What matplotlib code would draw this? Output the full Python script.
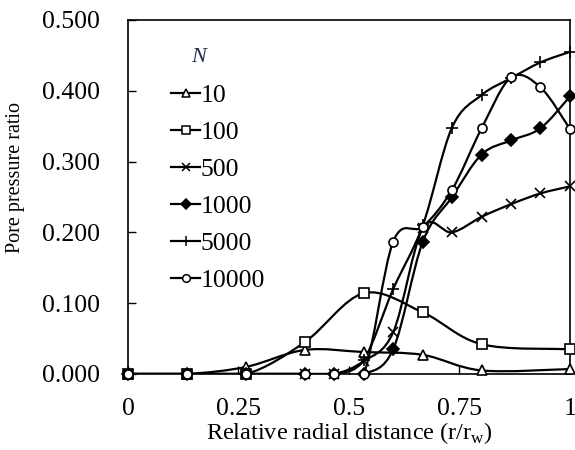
import numpy as np
import matplotlib
matplotlib.use("Agg")
import matplotlib.pyplot as plt
from matplotlib.path import Path
from matplotlib.patches import PathPatch
from matplotlib.lines import Line2D

plt.rcParams['font.family'] = ['Liberation Serif', 'DejaVu Serif']

x = [0, 0.133, 0.267, 0.4, 0.467, 0.533, 0.6, 0.667, 0.733, 0.8, 0.867, 0.933, 1.0]

x_10 = [0, 0.133, 0.267, 0.4, 0.533, 0.667, 0.8, 1.0]
y_10 = [0, 0, 0.010, 0.034, 0.031, 0.027, 0.005, 0.007]
x_100 = [0, 0.133, 0.267, 0.4, 0.533, 0.667, 0.8, 1.0]
y_100 = [0, 0, 0, 0.045, 0.114, 0.087, 0.042, 0.035]
y_500 = [0, 0, 0, 0, 0, 0.018, 0.059, 0.206, 0.200, 0.222, 0.240, 0.255, 0.265]
y_1000 = [0, 0, 0, 0, 0, 0, 0.035, 0.187, 0.250, 0.310, 0.330, 0.347, 0.392]
y_5000 = [0, 0, 0, 0, 0, 0.020, 0.120, 0.210, 0.348, 0.394, 0.418, 0.440, 0.455]
y_10000 = [0, 0, 0, 0, 0, 0, 0.187, 0.208, 0.260, 0.347, 0.419, 0.405, 0.346]

labels = ['10', '100', '500', '1000', '5000', '10000']
markers = ['^', 's', 'x', 'D', '+', 'o']
series = [(x_10, y_10), (x_100, y_100), (x, y_500), (x, y_1000), (x, y_5000), (x, y_10000)]

fig = plt.figure(figsize=(5.75, 4.5), dpi=100)
ax = fig.add_axes([0.2226, 0.1689, 0.7687, 0.7867])
ax.set_xlim(0, 1)
ax.set_ylim(0, 0.5)

SX, SY = 442.0, 354.0 / 0.5


def smooth_path(xs, ys):
    P = np.column_stack([np.array(xs) * SX, np.array(ys) * SY])
    n = len(P)
    verts = [P[0]]
    codes = [Path.MOVETO]
    for i in range(n - 1):
        p0 = P[i - 1] if i > 0 else P[i]
        p1 = P[i]
        p2 = P[i + 1]
        p3 = P[i + 2] if i + 2 < n else P[i + 1]
        c1 = p1 + (p2 - p0) / 6.0
        c2 = p2 - (p3 - p1) / 6.0
        verts += [c1, c2, p2]
        codes += [Path.CURVE4] * 3
    V = np.array(verts)
    V[:, 0] /= SX
    V[:, 1] /= SY
    return Path(V, codes)


sizes = {'^': 7, 's': 6.5, 'x': 6.5, 'D': 6.5, '+': 8.5, 'o': 6.5}
handles = []
for (xs, ys), lab, m in zip(series, labels, markers):
    ax.add_patch(PathPatch(smooth_path(xs, ys), fill=False, edgecolor='black', lw=1.6, zorder=2))
    filled = m in ('D',)
    ms = sizes[m]
    ax.plot(xs, ys, linestyle='none', marker=m, markersize=ms,
            markerfacecolor='black' if filled else 'white',
            markeredgecolor='black', markeredgewidth=1.2, zorder=3, clip_on=False)
    handles.append(Line2D([], [], color='black', lw=1.6, marker=m, markersize=ms - 1,
                          markerfacecolor='black' if filled else 'white',
                          markeredgecolor='black', markeredgewidth=1.1, label=lab))

ax.set_xticks([0, 0.25, 0.5, 0.75, 1.0])
ax.set_xticklabels(['0', '0.25', '0.5', '0.75', '1'])
ax.set_yticks([0, 0.1, 0.2, 0.3, 0.4, 0.5])
ax.set_yticklabels(['0.000', '0.100', '0.200', '0.300', '0.400', '0.500'])
ax.tick_params(direction='in', length=6, width=1, labelsize=18.5, colors='black')
ax.tick_params(axis='y', pad=20)
ax.tick_params(axis='x', pad=17)
for s in ax.spines.values():
    s.set_linewidth(1.2)
    s.set_color('black')

ax.set_ylabel('Pore pressure ratio', fontsize=14.5)
ax.yaxis.set_label_coords(-0.232, 0.556)
ax.set_xlabel('Relative radial distance (r/r$_\\mathregular{w}$)', fontsize=17.5, labelpad=0)

leg = ax.legend(handles=handles, loc='upper left', bbox_to_anchor=(0.075, 0.849),
                frameon=False, fontsize=18.5, handlelength=1.1,
                handletextpad=0.05, labelspacing=0.55, borderaxespad=0)
ax.text(0.142, 0.895, 'N', transform=ax.transAxes, fontsize=16, fontstyle='italic',
        color='#1f2d4d', ha='left', va='center')

fig.savefig('out.png', dpi=100)
